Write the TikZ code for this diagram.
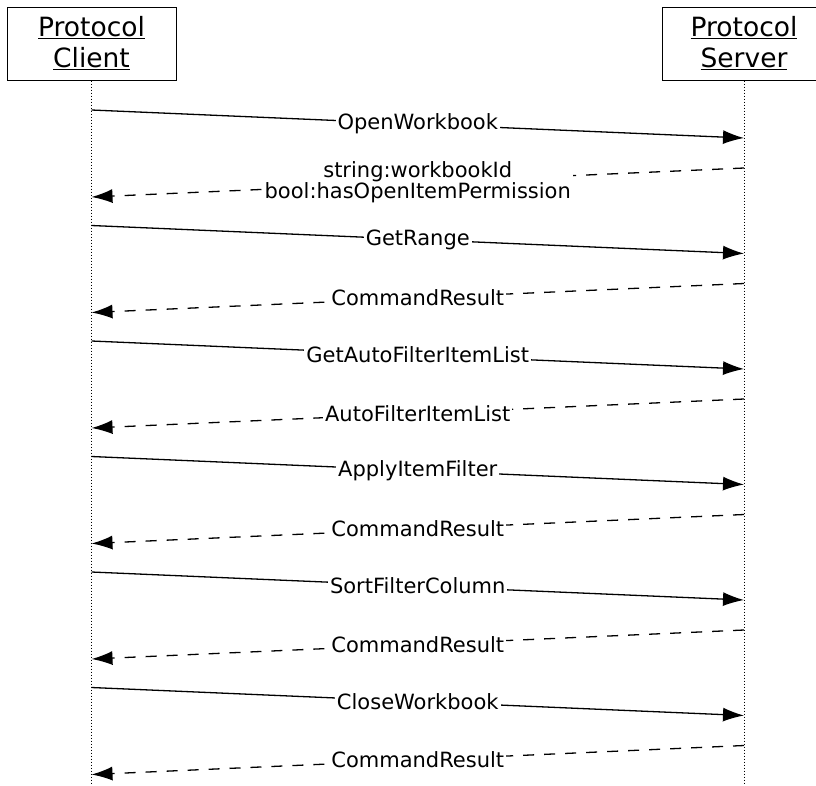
\documentclass[tikz,border=0pt]{standalone}
\usepackage{fontspec}
\setmainfont{DejaVu Sans}
\usetikzlibrary{arrows.meta}

\begin{document}
\begin{tikzpicture}[x=1pt,y=-1pt,
            actor/.style={draw,line width=1pt,minimum height=73pt,align=center,font=\fontsize{26.5}{31}\selectfont},
            lifeline/.style={draw,line width=1pt,dash pattern=on 1pt off 2pt},
            call/.style={draw,line width=1.3pt,-{Latex[length=21pt,width=14pt]}},
            reply/.style={call,dash pattern=on 11pt off 10pt},
            lbl/.style={fill=white,inner xsep=2pt,inner ysep=1pt,align=center,font=\fontsize{21}{19}\selectfont}
          ]
          \useasboundingbox (0,0) rectangle (816,785);

          %actors
          \node[actor,minimum width=169pt] (client) at (91.5,43.5) {\underline{Protocol}\\\underline{Client}};
          \node[actor,minimum width=164pt] (server) at (744,43.5) {\underline{Protocol}\\\underline{Server}};
          \coordinate (clientend) at (91.5,785);
          \coordinate (serverend) at (744,785);
          \path[lifeline] (client.south) -- (clientend);
          \path[lifeline] (server.south) -- (serverend);

          %message ends
          \coordinate (c1) at (91.5,110);   \coordinate (s1) at (744,138);
          \coordinate (s2) at (744,168);    \coordinate (c2) at (91.5,197);
          \coordinate (c3) at (91.5,225.5); \coordinate (s3) at (744,253.5);
          \coordinate (s4) at (744,283.5);  \coordinate (c4) at (91.5,312.5);
          \coordinate (c5) at (91.5,341);   \coordinate (s5) at (744,369);
          \coordinate (s6) at (744,399);    \coordinate (c6) at (91.5,428);
          \coordinate (c7) at (91.5,456.5); \coordinate (s7) at (744,484.5);
          \coordinate (s8) at (744,514.5);  \coordinate (c8) at (91.5,543.5);
          \coordinate (c9) at (91.5,572);   \coordinate (s9) at (744,600);
          \coordinate (s10) at (744,630);   \coordinate (c10) at (91.5,659);
          \coordinate (c11) at (91.5,687.5);\coordinate (s11) at (744,715.5);
          \coordinate (s12) at (744,745.5); \coordinate (c12) at (91.5,774.5);

          %messages
          \path[call] (c1) -- node[lbl] {OpenWorkbook} (s1);
          \path[reply] (s2) -- node[lbl] {string:workbookId\\bool:hasOpenItemPermission} (c2);
          \path[call] (c3) -- node[lbl] {GetRange} (s3);
          \path[reply] (s4) -- node[lbl] {CommandResult} (c4);
          \path[call] (c5) -- node[lbl] {GetAutoFilterItemList} (s5);
          \path[reply] (s6) -- node[lbl] {AutoFilterItemList} (c6);
          \path[call] (c7) -- node[lbl] {ApplyItemFilter} (s7);
          \path[reply] (s8) -- node[lbl] {CommandResult} (c8);
          \path[call] (c9) -- node[lbl] {SortFilterColumn} (s9);
          \path[reply] (s10) -- node[lbl] {CommandResult} (c10);
          \path[call] (c11) -- node[lbl] {CloseWorkbook} (s11);
          \path[reply] (s12) -- node[lbl] {CommandResult} (c12);

      \end{tikzpicture}
\end{document}
